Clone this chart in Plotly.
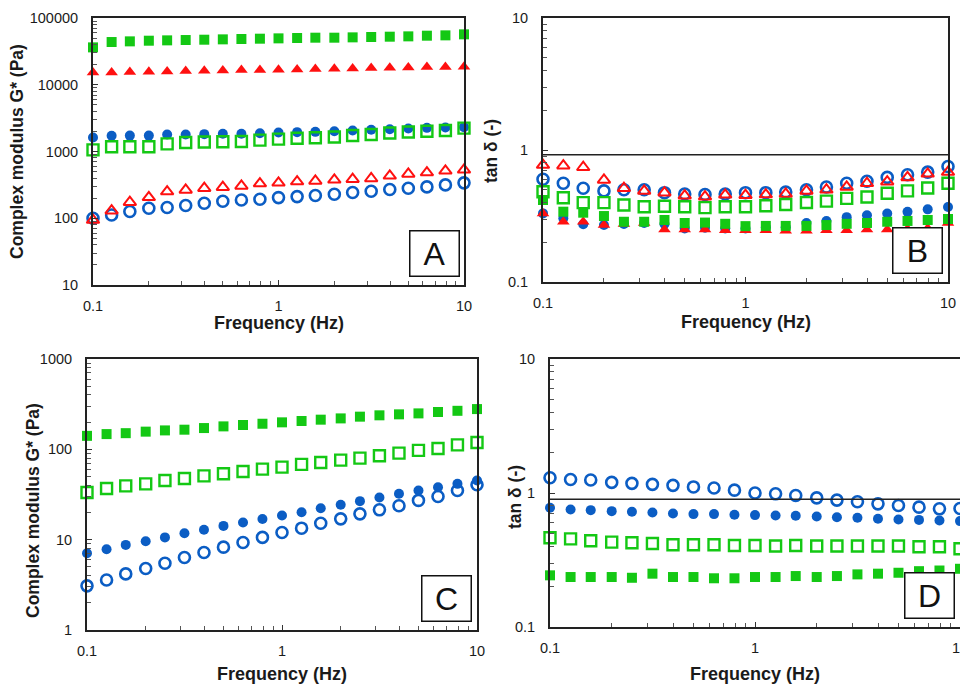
import plotly.graph_objects as go

freq = [0.1, 0.126, 0.158, 0.2, 0.251, 0.316, 0.398, 0.501, 0.631, 0.794,
        1.0, 1.26, 1.58, 2.0, 2.51, 3.16, 3.98, 5.01, 6.31, 7.94, 10.0]

# Panel A: complex modulus G* (Pa)
a_green_filled = [36300, 43650, 44670, 45700, 46240, 46770, 47300, 47860, 48420, 48980,
                  49550, 50120, 50700, 50700, 51290, 51880, 52480, 53090, 54330, 54950, 56890]
a_red_filled = [15310, 15310, 15490, 15670, 15850, 16030, 16220, 16410, 16600, 16600,
                16790, 16980, 17180, 17380, 17580, 17780, 17990, 18200, 18410, 18410, 18620]
a_blue_filled = [1622, 1718, 1730, 1730, 1799, 1799, 1820, 1840, 1840, 1880,
                 1928, 1950, 1970, 2010, 2060, 2113, 2160, 2210, 2260, 2290, 2317]
a_green_open = [1059, 1175, 1175, 1175, 1303, 1365, 1390, 1400, 1415, 1480,
                1530, 1580, 1610, 1650, 1740, 1800, 1890, 1960, 2010, 2060, 2239]
a_red_open = [94, 130, 174, 206, 251, 266, 282, 292, 305, 331,
              339, 355, 363, 376, 385, 394, 432, 462, 484, 513, 531]
a_blue_open = [100, 112, 126, 141, 145, 155, 168, 180, 188, 193,
               204, 211, 219, 229, 243, 254, 269, 282, 295, 316, 339]

# Panel B: tan delta
b_red_open = [0.769, 0.76, 0.74, 0.593, 0.513, 0.49, 0.475, 0.451, 0.443, 0.458,
              0.455, 0.46, 0.465, 0.49, 0.50, 0.525, 0.56, 0.575, 0.62, 0.66, 0.68]
b_blue_open = [0.60, 0.56, 0.513, 0.49, 0.50, 0.50, 0.475, 0.464, 0.46, 0.464,
               0.475, 0.475, 0.48, 0.50, 0.525, 0.56, 0.58, 0.62, 0.65, 0.68, 0.75]
b_green_open = [0.483, 0.435, 0.399, 0.399, 0.383, 0.372, 0.375, 0.372, 0.366, 0.372,
                0.372, 0.378, 0.386, 0.40, 0.41, 0.43, 0.44, 0.47, 0.49, 0.515, 0.56]
b_green_filled = [0.418, 0.341, 0.335, 0.316, 0.286, 0.286, 0.295, 0.28, 0.282, 0.276,
                  0.265, 0.266, 0.266, 0.266, 0.27, 0.276, 0.28, 0.286, 0.29, 0.295, 0.30]
b_blue_filled = [0.331, 0.304, 0.274, 0.27, 0.275, 0.28, 0.275, 0.254, 0.258, 0.254,
                 0.254, 0.26, 0.26, 0.28, 0.29, 0.31, 0.32, 0.33, 0.34, 0.355, 0.37]
b_red_filled = [0.33, 0.286, 0.286, 0.27, 0.275, 0.28, 0.25, 0.25, 0.25, 0.247,
                0.247, 0.247, 0.245, 0.245, 0.247, 0.247, 0.25, 0.25, 0.252, 0.255, 0.28]

# Panel C: complex modulus G* (Pa)
c_green_filled = [141, 147.5, 151, 157, 162, 165, 172, 179.5, 186, 192,
                  199, 206, 213, 220, 230, 238, 244, 250, 259, 267, 279]
c_green_open = [33.3, 36.9, 39.4, 41.5, 45.2, 47.6, 50.9, 53.6, 56.9, 60.4,
                63.6, 68.1, 71.6, 76.0, 80.0, 84.9, 90.8, 97.3, 102, 112, 119]
c_blue_filled = [7.08, 7.83, 8.75, 9.62, 10.6, 11.8, 12.85, 14.2, 15.5, 16.9,
                 18.5, 20.1, 22.3, 24.3, 26.7, 29.3, 32.2, 35.0, 38.1, 41.5, 45.2]
c_blue_open = [3.08, 3.58, 4.18, 4.79, 5.48, 6.34, 7.2, 8.26, 9.3, 10.6,
               12.0, 13.4, 15.2, 17.0, 19.3, 21.4, 23.7, 27.2, 30.1, 35.0, 40.5]

# Panel D: tan delta
d_blue_open = [1.30, 1.26, 1.25, 1.20, 1.18, 1.16, 1.14, 1.11, 1.09, 1.05,
               1.0, 0.986, 0.958, 0.92, 0.885, 0.86, 0.83, 0.807, 0.784, 0.762, 0.766]
d_blue_filled = [0.775, 0.754, 0.745, 0.732, 0.724, 0.716, 0.704, 0.696, 0.696, 0.688,
                 0.684, 0.68, 0.676, 0.668, 0.66, 0.653, 0.642, 0.634, 0.63, 0.624, 0.617]
d_green_open = [0.463, 0.455, 0.44, 0.43, 0.425, 0.42, 0.411, 0.411, 0.411, 0.406,
                0.406, 0.402, 0.406, 0.402, 0.402, 0.402, 0.402, 0.402, 0.397, 0.397, 0.384]
d_green_filled = [0.243, 0.236, 0.236, 0.236, 0.233, 0.25, 0.236, 0.236, 0.231, 0.231,
                  0.236, 0.236, 0.24, 0.236, 0.24, 0.247, 0.25, 0.254, 0.261, 0.264, 0.272]

ref_lines = {"B": 0.92, "D": 0.90}
panel_letters = ["A", "B", "C", "D"]
x_tick_vals = [0.1, 1, 10]
x_tick_text = ["0.1", "1", "10"]
x_title = "Frequency (Hz)"
y_titles = {"A": "Complex modulus G* (Pa)", "B": "tan δ (-)",
            "C": "Complex modulus G* (Pa)", "D": "tan δ (-)"}

BLUE = "#0B5DC4"
GREEN = "#14C814"
RED = "#FF1010"
FONT = "Liberation Sans, Arial, sans-serif"

# page has an 8px body margin: figure is drawn at (8, 8) in the 968x686 window
OFF = 8
FW, FH = 968 - OFF, 686 - OFF

def px_x(sx):
    return (sx - OFF) / FW

def px_y(sy):
    return (FH - (sy - OFF)) / FH

def dom_x(a, b):
    return [px_x(a), px_x(b)]

def dom_y(top, bottom):
    return [px_y(bottom), px_y(top)]

# window-pixel boxes of each panel (left, right, top, bottom) and title positions
panels = {
    "A": dict(xa="x", ya="y", px=(93, 464, 18, 285), yr=[1, 5], yt=(17, 152), xt=323),
    "B": dict(xa="x2", ya="y2", px=(543, 948, 18, 282), yr=[-1, 1], yt=(491, 151), xt=322),
    "C": dict(xa="x3", ya="y3", px=(87, 477, 359, 630), yr=[0, 3], yt=(33, 511), xt=674),
    "D": dict(xa="x4", ya="y4", px=(550, 960, 359, 627), yr=[-1, 1], yt=(515, 497), xt=674),
}

def style(kind, color):
    if kind == "circle":
        return dict(symbol="circle", size=10, color=color)
    if kind == "circle-open":
        return dict(symbol="circle-open", size=11, color=color, line=dict(width=2.6, color=color))
    if kind == "square":
        return dict(symbol="square", size=10, color=color)
    if kind == "square-open":
        return dict(symbol="square-open", size=11, color=color, line=dict(width=2.4, color=color))
    if kind == "triangle":
        return dict(symbol="triangle-up", size=11, color=color)
    if kind == "triangle-open":
        return dict(symbol="triangle-up-open", size=11, color=color, line=dict(width=2, color=color))

series = {
    "A": [(a_blue_filled, "circle", BLUE), (a_red_filled, "triangle", RED),
          (a_green_filled, "square", GREEN), (a_blue_open, "circle-open", BLUE),
          (a_red_open, "triangle-open", RED), (a_green_open, "square-open", GREEN)],
    "B": [(b_blue_filled, "circle", BLUE), (b_red_filled, "triangle", RED),
          (b_green_filled, "square", GREEN), (b_blue_open, "circle-open", BLUE),
          (b_red_open, "triangle-open", RED), (b_green_open, "square-open", GREEN)],
    "C": [(c_blue_filled, "circle", BLUE), (c_green_filled, "square", GREEN),
          (c_blue_open, "circle-open", BLUE), (c_green_open, "square-open", GREEN)],
    "D": [(d_blue_filled, "circle", BLUE), (d_green_filled, "square", GREEN),
          (d_blue_open, "circle-open", BLUE), (d_green_open, "square-open", GREEN)],
}

fig = go.Figure()
for key, p in panels.items():
    for vals, kind, color in series[key]:
        fig.add_trace(go.Scatter(x=freq, y=vals, mode="markers", marker=style(kind, color),
                                 xaxis=p["xa"], yaxis=p["ya"], cliponaxis=False,
                                 showlegend=False, hoverinfo="x+y"))

TICKFONT = dict(family=FONT, size=14.5, color="#1a1a1a")
TITLEFONT = dict(family=FONT, size=18, color="#1a1a1a")
YTITLEFONT = dict(family=FONT, size=17.5, color="#1a1a1a")

minor_x = [v * m for v in [0.1, 1] for m in range(2, 10)]

def y_minor(rng):
    return [m * 10 ** e for e in range(rng[0], rng[1]) for m in range(2, 10)]

def y_major(rng):
    return [10 ** e for e in range(rng[0], rng[1] + 1)]

def fmt(v):
    return str(int(round(v))) if v >= 1 else "%g" % v

layout = {}
annotations = []
for i, (key, p) in enumerate(panels.items()):
    suffix = "" if i == 0 else str(i + 1)
    l, r, t, b = p["px"]
    ymaj = y_major(p["yr"])
    layout["xaxis" + suffix] = dict(
        type="log", range=[-1, 1], domain=dom_x(l, r), anchor=p["ya"], automargin=False,
        tickvals=x_tick_vals, ticktext=x_tick_text, ticks="inside", ticklen=5,
        tickcolor="#333", tickfont=TICKFONT, ticklabelstandoff=7,
        ticklabeloverflow="allow",
        minor=dict(tickvals=minor_x, ticks="inside", ticklen=4, tickcolor="#555"),
        showline=True, linecolor="#222", linewidth=2, mirror=True,
        showgrid=False, zeroline=False,
    )
    layout["yaxis" + suffix] = dict(
        type="log", range=p["yr"], domain=dom_y(t, b), anchor=p["xa"], automargin=False,
        tickvals=ymaj, ticktext=[fmt(v) for v in ymaj], ticks="inside", ticklen=5,
        tickcolor="#333", tickfont=TICKFONT, ticklabelstandoff=10,
        ticklabeloverflow="allow",
        minor=dict(tickvals=y_minor(p["yr"]), ticks="inside", ticklen=4, tickcolor="#555"),
        showline=True, linecolor="#222", linewidth=2, mirror=True,
        showgrid=False, zeroline=False,
    )
    annotations.append(dict(text="<b>%s</b>" % x_title, xref="paper", yref="paper",
                            x=px_x((l + r) / 2), y=px_y(p["xt"]),
                            xanchor="center", yanchor="middle", showarrow=False,
                            font=TITLEFONT))
    ytx, yty = p["yt"]
    annotations.append(dict(text="<b>%s</b>" % y_titles[key], xref="paper", yref="paper",
                            x=px_x(ytx), y=px_y(yty), textangle=-90,
                            xanchor="center", yanchor="middle", showarrow=False,
                            font=YTITLEFONT))

shapes = []
for key, yv in ref_lines.items():
    p = panels[key]
    shapes.append(dict(type="line", xref=p["xa"] + " domain", yref=p["ya"],
                       x0=0, x1=1, y0=yv, y1=yv, line=dict(color="#222", width=1.5)))

for key in panel_letters:
    p = panels[key]
    annotations.append(dict(text=key, xref=p["xa"] + " domain", yref=p["ya"] + " domain",
                            x=0.988, y=0.03, xanchor="right", yanchor="bottom",
                            showarrow=False, width=46, height=42,
                            font=dict(family=FONT, size=32, color="#111"),
                            bordercolor="#111", borderwidth=1.5, borderpad=1,
                            bgcolor="white"))

fig.update_layout(**layout)
fig.update_layout(shapes=shapes, annotations=annotations,
                  width=FW, height=FH, margin=dict(l=0, r=0, t=0, b=0, autoexpand=False),
                  paper_bgcolor="white", plot_bgcolor="white")

fig.write_html("out.html")
